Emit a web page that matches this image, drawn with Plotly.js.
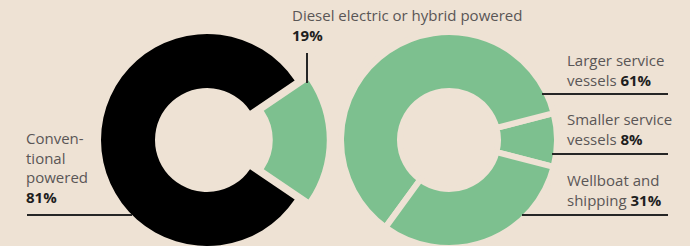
<!DOCTYPE html>
<html>
<head>
<meta charset="utf-8">
<script src="https://cdn.plot.ly/plotly-3.0.1.min.js"></script>
<style>
  html, body { margin: 0; padding: 0; background: #EEE2D4; overflow: hidden; width: 690px; height: 246px; }
  #chart { width: 690px; height: 300px; }
</style>
</head>
<body>
<div id="chart"></div>
<script>
// ---- data ----
const powerCategories = ["Diesel electric or hybrid powered", "Conventional powered"];
const powerShares = [19, 81];
const vesselCategories = ["Smaller service vessels", "Larger service vessels", "Wellboat and shipping"];
const vesselShares = [8, 61, 31];

// ---- style ----
const BG = "#EEE2D4";
const GREEN = "#7DC08F";
const BLACK = "#000000";
const TEXT = "#5a5656";
const DARK = "#1e1e1e";
const W = 690, H = 300;

function px(x) { return x / W; }
function py(y) { return 1 - y / H; }

function pieDomain(cx, cy, r, pull) {
  const half = r * (1 + pull);
  return {
    x: [(cx - half) / W, (cx + half) / W],
    y: [(H - cy - half) / H, (H - cy + half) / H]
  };
}

const leftPull = 0.13;
const traces = [
  {
    type: "pie",
    labels: powerCategories,
    values: powerShares,
    sort: false,
    direction: "counterclockwise",
    rotation: 90 - (powerShares[0] / 100) * 180,
    hole: 52 / 106,
    pull: [leftPull, 0],
    marker: { colors: [GREEN, BLACK], line: { width: 0 } },
    textinfo: "none",
    hoverinfo: "skip",
    showlegend: false,
    domain: pieDomain(207, 140, 106, leftPull)
  },
  {
    type: "pie",
    labels: vesselCategories,
    values: vesselShares,
    sort: false,
    direction: "counterclockwise",
    rotation: 90 - (vesselShares[0] / 100) * 180,
    hole: 49 / 108,
    marker: { colors: [GREEN, GREEN, GREEN], line: { width: 6, color: BG } },
    textinfo: "none",
    hoverinfo: "skip",
    showlegend: false,
    domain: pieDomain(449, 140, 108, 0)
  }
];

const font = { family: "Open Sans, sans-serif", size: 15, color: TEXT };
function bold(s) { return '<b><span style="color:' + DARK + '">' + s + '</span></b>'; }

function ann(x, y, text) {
  return { xref: "paper", yref: "paper", x: px(x), y: py(y), xanchor: "left", yanchor: "top",
           text: text, showarrow: false, align: "left", font: font, borderpad: 0 };
}

const annotations = [
  ann(291, 4, powerCategories[0] + "<br>" + bold(powerShares[0] + "%")),
  ann(25, 127, "Conven-<br>tional<br>powered<br>" + bold(powerShares[1] + "%")),
  ann(566, 49, "Larger service<br>vessels " + bold(vesselShares[1] + "%")),
  ann(566, 108, "Smaller service<br>vessels " + bold(vesselShares[0] + "%")),
  ann(566, 169, "Wellboat and<br>shipping " + bold(vesselShares[2] + "%"))
];

function line(x0, y0, x1, y1) {
  return { type: "line", xref: "paper", yref: "paper", x0: px(x0), y0: py(y0), x1: px(x1), y1: py(y1),
           line: { color: "#262626", width: 2 } };
}

const shapes = [
  line(307, 53, 307, 83),
  line(27, 215, 132, 215),
  line(542, 94, 668, 94),
  line(552, 154, 668, 154),
  line(522, 215, 668, 215)
];

Plotly.newPlot("chart", traces, {
  width: W, height: H,
  margin: { l: 0, r: 0, t: 0, b: 0 },
  paper_bgcolor: BG, plot_bgcolor: BG,
  annotations: annotations,
  shapes: shapes
}, { displayModeBar: false, staticPlot: true });
</script>
</body>
</html>
